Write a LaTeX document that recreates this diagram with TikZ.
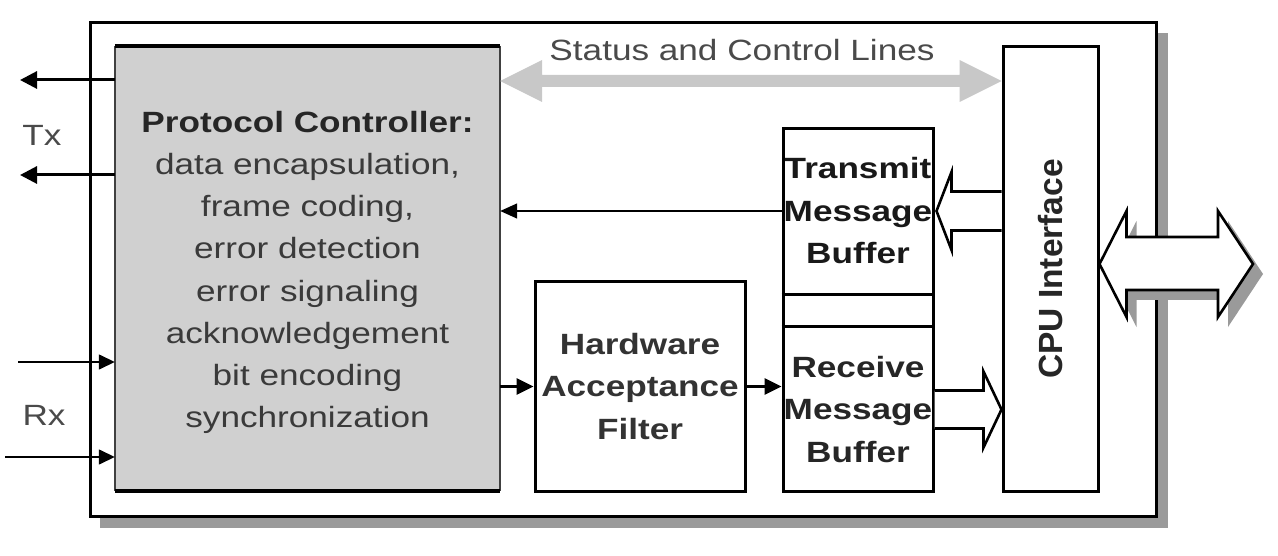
\documentclass[tikz,border=0pt]{standalone}
\usepackage{fontspec}
\setmainfont{Liberation Sans}[FakeStretch=1.2]
\newfontfamily\cpufont{Liberation Sans}
\usetikzlibrary{arrows.meta,calc}
\definecolor{pcfill}{HTML}{D0D0D0}
\definecolor{shadowgray}{HTML}{9A9A9A}
\definecolor{statusgray}{HTML}{C8C8C8}
\definecolor{bodytext}{HTML}{3A3A3A}
\definecolor{labeltext}{HTML}{4A4A4A}
\begin{document}
\begin{tikzpicture}[x=1pt,y=-1pt,
  blockbox/.style={draw=black, line width=3pt, fill=white, inner sep=0pt, align=center,
    font=\fontsize{29.3}{42.5}\selectfont\bfseries},
  txtstyle/.style={font=\fontsize{29.3}{42.2}\selectfont, align=center},
  thickarr/.style={line width=3pt, -{Triangle[length=17pt,width=17pt]}},
  thinarr/.style={line width=1.5pt, -{Triangle[length=16pt,width=15pt]}},
  hollow/.style={draw=black, line width=2.6pt, fill=white, line join=miter, miter limit=10},
  lineflow/.style={line width=3pt, -{Triangle[length=17pt,width=16pt]}}
]
\useasboundingbox (0,0) rectangle (1278,556);

% outer frame with shadow
\fill[shadowgray] (100,33) rectangle (1168,528);
\node[draw=black, line width=3pt, fill=white, minimum width=1066pt, minimum height=493pt, inner sep=0pt] (outer) at (623,269.5) {};

% protocol controller
\node[fill=pcfill, draw=none, minimum width=385pt, minimum height=445pt, inner sep=0pt] (pc) at (307.5,268.5) {};
\draw[line width=1.8pt, black!75] (pc.north west) -- (pc.south west) (pc.north east) -- (pc.south east);
\draw[line width=4pt] (pc.north west) -- (pc.north east) (pc.south west) -- (pc.south east);
\node[txtstyle, text=bodytext] (pctext) at (307.5,272.5)
  {{\bfseries\color{black!85}Protocol Controller:}\\data encapsulation,\\frame coding,\\error detection\\error signaling\\acknowledgement\\bit encoding\\synchronization};

% other blocks
\node[blockbox, text=black!80, minimum width=210pt, minimum height=209pt] (haf) at (640,386.5) {Hardware\\Acceptance\\Filter};
\draw[line width=3pt] (783,129) rectangle (933,491);
\node[blockbox, draw=none, fill=none, text=black!90, minimum width=150pt, minimum height=164pt] (tmb) at (858,211) {Transmit\\Message\\Buffer};
\node[blockbox, draw=none, fill=none, text=black!85, minimum width=150pt, minimum height=163pt] (rmb) at (858,409.5) {Receive\\Message\\Buffer};
\draw[line width=3pt] (tmb.south west) -- (tmb.south east) (rmb.north west) -- (rmb.north east);
\node[blockbox, minimum width=95pt, minimum height=444pt] (cpu) at (1050.5,269) {};
\node[rotate=90, font=\cpufont\fontsize{33.5}{36}\selectfont\bfseries, text=black!85] (cputext) at (cpu.center) {CPU Interface};

% status and control lines
\coordinate (s1) at (pc.east |- 0,81);
\coordinate (s2) at (cpu.west |- 0,81);
\fill[statusgray] (s1) -- ($(s1)+(42,-21)$) -- ($(s1)+(42,-6)$) -- ($(s2)+(-42,-6)$) -- ($(s2)+(-42,-21)$)
  -- (s2) -- ($(s2)+(-42,21)$) -- ($(s2)+(-42,6)$) -- ($(s1)+(42,6)$) -- ($(s1)+(42,21)$) -- cycle;
\node[txtstyle, text=labeltext] (status) at (742,50) {Status and Control Lines};

% Tx / Rx
\coordinate (tx1) at (20,80);
\coordinate (tx2) at (20,175);
\coordinate (rx1) at (18,362);
\coordinate (rx2) at (5,457);
\draw[thickarr] (pc.west |- tx1) -- (tx1);
\draw[thickarr] (pc.west |- tx2) -- (tx2);
\draw[thinarr] (rx1) -- (rx1 -| pc.west);
\draw[thinarr] (rx2) -- (rx2 -| pc.west);
\node[txtstyle, text=labeltext] (txlabel) at (42,135) {Tx};
\node[txtstyle, text=labeltext] (rxlabel) at (44,415) {Rx};

% internal flows
\draw[line width=1.5pt, -{Triangle[length=17pt,width=15pt]}] (tmb.west) -- (tmb.west -| pc.east);
\draw[lineflow] (pc.east |- haf.west) -- (haf.west);
\draw[lineflow] (haf.east) -- (haf.east -| rmb.west);

% hollow arrow CPU -> transmit buffer
\coordinate (ta) at (cpu.west |- tmb.east);
\draw[hollow] ($(ta)+(0,-19.5)$) -- ($(tmb.east)+(17,-19.5)$) -- ($(tmb.east)+(17,-39)$) -- ($(tmb.east)+(2,0)$)
  -- ($(tmb.east)+(17,39)$) -- ($(tmb.east)+(17,19.5)$) -- ($(ta)+(0,19.5)$);
% hollow arrow receive buffer -> CPU
\coordinate (ra) at (cpu.west |- rmb.east);
\draw[hollow] ($(rmb.east)+(0,-19)$) -- ($(ra)+(-18,-19)$) -- ($(ra)+(-18,-38)$) -- (ra)
  -- ($(ra)+(-18,38)$) -- ($(ra)+(-18,19)$) -- ($(rmb.east)+(0,19)$);

% external double arrow with shadow
\coordinate (da) at (cpu.east |- 0,264);
\coordinate (db) at (1253,264);
\fill[shadowgray] ($(da)+(10,10)$) -- ($(da)+(37,-43)$) -- ($(da)+(37,-17)$) -- ($(db)+(-25,-17)$) -- ($(db)+(-25,-43)$)
  -- ($(db)+(10,10)$) -- ($(db)+(-25,63)$) -- ($(db)+(-25,36)$) -- ($(da)+(37,36)$) -- ($(da)+(37,63)$) -- cycle;
\draw[hollow] (da) -- ($(da)+(27,-53)$) -- ($(da)+(27,-27)$) -- ($(db)+(-35,-27)$) -- ($(db)+(-35,-53)$)
  -- (db) -- ($(db)+(-35,53)$) -- ($(db)+(-35,26)$) -- ($(da)+(27,26)$) -- ($(da)+(27,53)$) -- cycle;
\end{tikzpicture}
\end{document}
